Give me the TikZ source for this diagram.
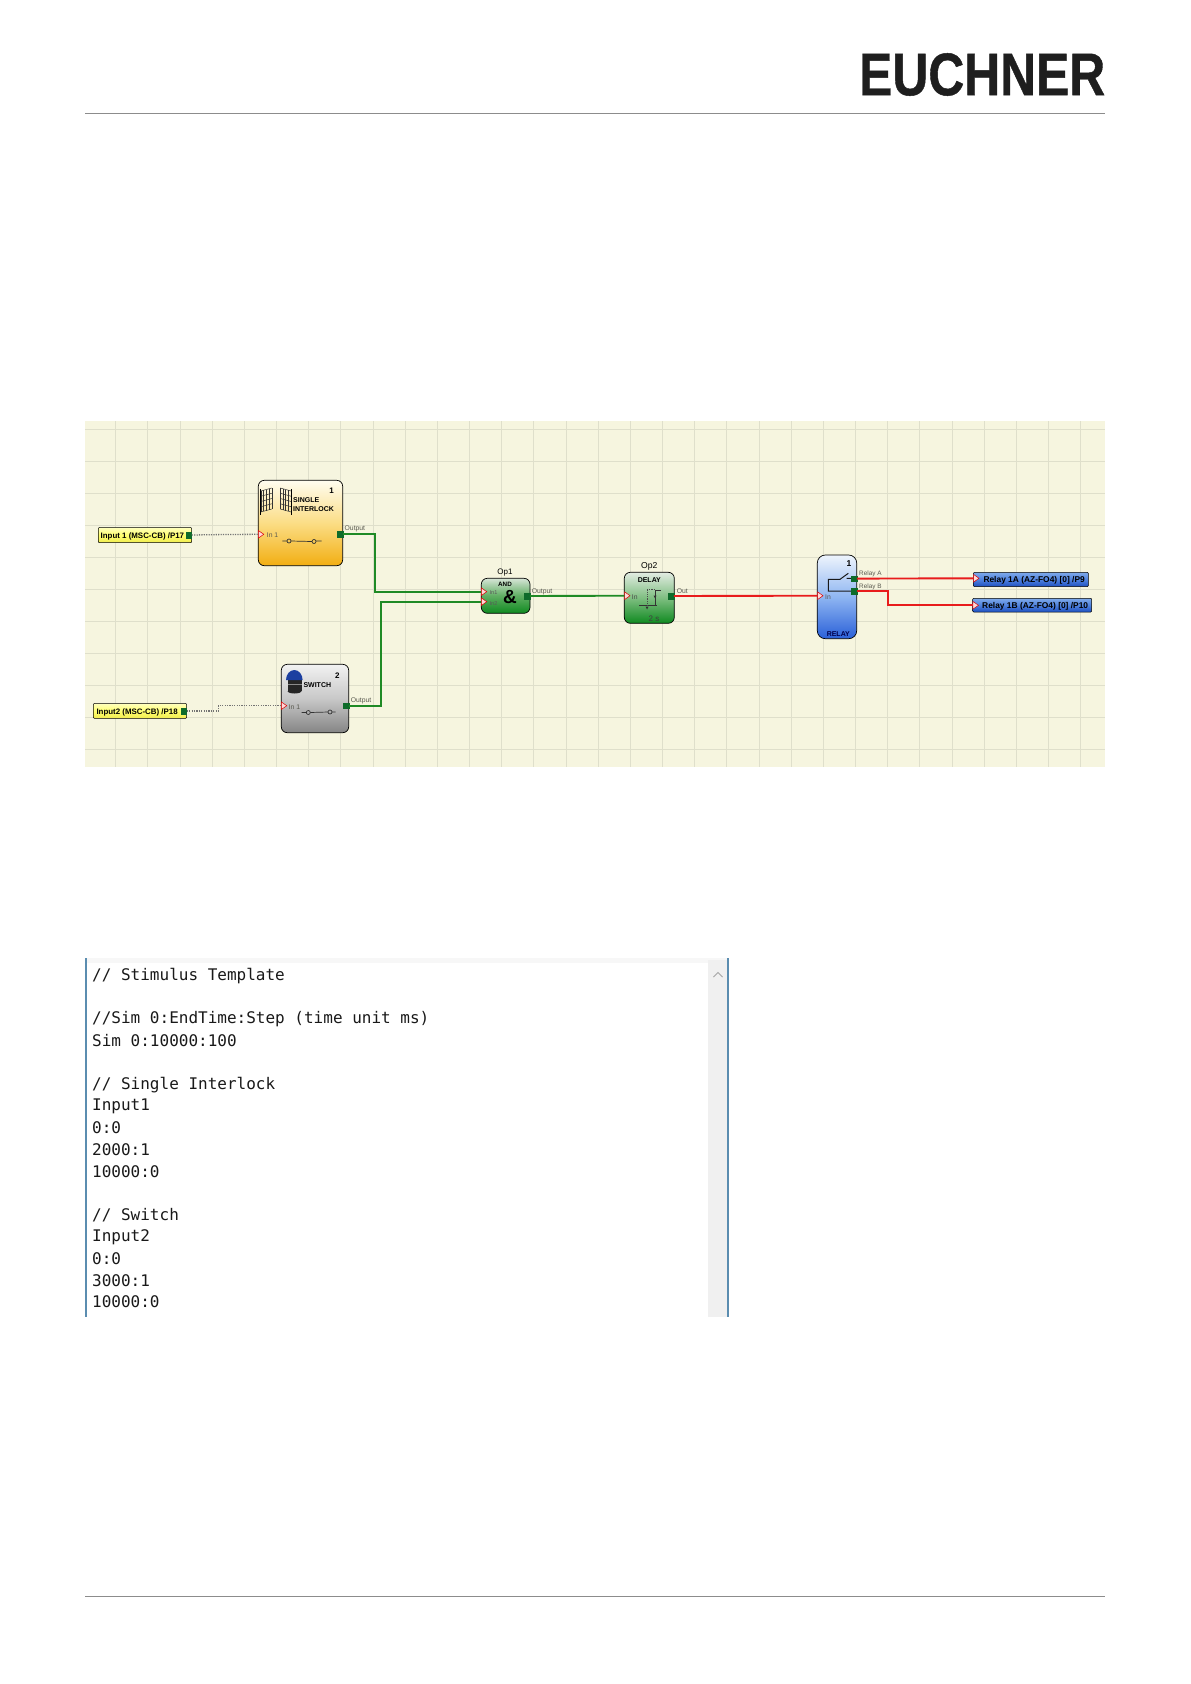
\documentclass[tikz,border=0pt]{standalone}
\usepackage{fontspec}
\usepackage{graphicx}
\usetikzlibrary{shapes.geometric,arrows.meta,calc}
\setmainfont{Liberation Sans}
\newfontfamily\logofont[FakeBold=0.8]{Liberation Sans Bold}
\newfontfamily\codefont{DejaVu Sans Mono}
\definecolor{panelbg}{HTML}{F6F5DF}
\definecolor{gridc}{HTML}{DFDFCB}
\definecolor{wireg}{HTML}{1F8A25}
\definecolor{wirer}{HTML}{E81C1C}
\definecolor{portg}{HTML}{0E6B2A}
\definecolor{ruleg}{HTML}{8C8C8C}
\definecolor{labelg}{HTML}{5A5A50}
\definecolor{barc}{HTML}{F0F0F0}
\definecolor{edgeb}{HTML}{5B8DB0}
\definecolor{logoc}{HTML}{1E1E1E}
\definecolor{dome}{HTML}{1C3FA0}
\definecolor{orA}{HTML}{FFFDF0}\definecolor{orB}{HTML}{FBDD85}\definecolor{orC}{HTML}{F2AE12}
\definecolor{yeA}{HTML}{FFFFC0}\definecolor{yeB}{HTML}{FFFF70}\definecolor{yeC}{HTML}{F0EC50}
\definecolor{blA}{HTML}{7FAAEA}\definecolor{blB}{HTML}{4F82DE}\definecolor{blC}{HTML}{1D4FC0}
\definecolor{reA}{HTML}{EEF4FC}\definecolor{reB}{HTML}{8FB6F2}\definecolor{reC}{HTML}{2A60D8}
\definecolor{grA}{HTML}{D6E4D6}\definecolor{grB}{HTML}{5FAE62}\definecolor{grC}{HTML}{0F8A20}
\definecolor{gyA}{HTML}{F2F2F2}\definecolor{gyB}{HTML}{C8C8C8}\definecolor{gyC}{HTML}{858585}
\newcommand{\fs}[1]{\fontsize{#1}{#1}\selectfont}
\tikzset{
  blockbox/.style={draw=black,line width=.7pt,rounded corners=6pt,inner sep=0pt,anchor=north west},
  iobox/.style={draw=black,line width=.5pt,rounded corners=1pt,inner sep=0pt,anchor=north west},
  port/.style={draw=portg,fill=portg,minimum size=5.5pt,inner sep=0pt},
  intri/.style={isosceles triangle,isosceles triangle apex angle=70,draw=red!85!black,fill=red!15,line width=.5pt,inner sep=0pt,minimum height=5.5pt,minimum width=5.5pt,anchor=west},
  gwire/.style={draw=wireg,line width=1.9pt},
  rwire/.style={draw=wirer,line width=1.9pt},
  dotwire/.style={draw=black!55,line width=1.3pt,dash pattern=on 1.2pt off 1.2pt},
  lab/.style={text=labelg,inner sep=0pt,anchor=west,font=\fs{6.8}},
  bold/.style={text=black,inner sep=0pt,font=\fs{7}\bfseries},
  iotext/.style={text=black,inner sep=0pt,anchor=west},
  codeline/.style={text=black!90,inner sep=0pt,anchor=west,font=\codefont\fs{16}},
  symb/.style={draw=black!80,line width=.7pt},
}
\begin{document}
\begin{tikzpicture}[x=1pt,y=-1pt]
\useasboundingbox (0,0) rectangle (1191,1684);
\fill[white] (0,0) rectangle (1191,1684);
% header
\node[inner sep=0pt,anchor=north west,text=logoc] (logo) at (859,53) {\resizebox{246pt}{42pt}{\logofont EUCHNER}};
\draw[ruleg,line width=.8pt] (85,113) -- (1105,113);
\draw[ruleg,line width=.8pt] (85,1596) -- (1105,1596);
% panel
\fill[panelbg] (85,421) rectangle (1105,767);
\foreach \k in {0,...,30}{\draw[gridc,line width=1pt] ({115.7+32.17*\k},421) -- ({115.7+32.17*\k},767);}
\foreach \k in {0,...,10}{\draw[gridc,line width=1pt] (85,{429.3+32*\k}) -- (1105,{429.3+32*\k});}
% interlock block
\path[blockbox,top color=orA,bottom color=orC,middle color=orB] (258.3,480.3) rectangle (342.7,565.7);
\foreach \xa/\sgn in {260.8/1,291.2/-1}{
  \foreach \t in {0,.25,.5,.75,1}{\draw[black!80,line width=.5pt] (\xa,{491+\t*21}) -- ({\xa+\sgn*11},{488+\t*21});}
  \foreach \t in {0,.25,.5,.75,1}{\draw[black!80,line width=.5pt] ({\xa+\sgn*\t*11},{491-\t*3}) -- ({\xa+\sgn*\t*11},{512-\t*3});}
  \draw[black,line width=1.1pt] (\xa,489.3) -- (\xa,515);
}
\node[bold,anchor=west] (t1a) at (293,500.2) {SINGLE};
\node[bold,anchor=west] (t1b) at (293,509.5) {INTERLOCK};
\node[bold,font=\fs{8}\bfseries] (t1n) at (331.7,491) {1};
\draw[symb] (282.3,541) -- (287,541) (291,541) -- (312,541.5) (316,541) -- (321.7,541);
\draw[symb] (289,541) circle (2pt) (314,541.5) circle (2pt);
\node[port] (p1out) at (340,534.3) {};
\node[intri] (t1in) at (258,534.3) {};
\node[lab] (l1in) at (266.7,535) {In 1};
\node[lab] (l1out) at (344.5,529.3) {Output};
% switch block
\path[blockbox,top color=gyA,bottom color=gyC,middle color=gyB] (281.3,664.3) rectangle (348.7,732.7);
\fill[black!85] (287.5,680) rectangle (301.5,691);
\fill[black!85] (287.5,691) arc[start angle=180,end angle=0,x radius=7,y radius=2.5];
\fill[black!45] (287.5,683.5) rectangle (301.5,685);
\fill[dome] (286,680) arc[start angle=180,end angle=360,x radius=8.3,y radius=10] -- cycle;
\node[bold,anchor=west] (t2a) at (303.3,685) {SWITCH};
\node[bold,font=\fs{8}\bfseries] (t2n) at (337.3,675.7) {2};
\draw[symb] (301.7,712.5) -- (306,712.5) (310.3,712.5) -- (328,712) (332,712) -- (335.7,712);
\draw[symb] (308.3,712.5) circle (2pt) (330,712) circle (2pt);
\node[port] (p2out) at (346,705.7) {};
\node[intri] (t2in) at (281,705.7) {};
\node[lab] (l2in) at (288.5,706.7) {In 1};
\node[lab] (l2out) at (350.7,700.7) {Output};
% inputs
\path[iobox,top color=yeA,bottom color=yeC,middle color=yeB] (98.3,527.3) rectangle (191.7,542.7);
\node[iotext,font=\fs{7.9}\bfseries] (i1t) at (100.5,536.3) {Input 1 (MSC-CB) /P17};
\node[port] (i1p) at (188.8,535) {};
\path[iobox,top color=yeA,bottom color=yeC,middle color=yeB] (93.3,703.3) rectangle (186.7,718.3);
\node[iotext,font=\fs{7.9}\bfseries] (i2t) at (96.3,712.5) {Input2 (MSC-CB) /P18};
\node[port] (i2p) at (183.8,711) {};
% AND
\path[blockbox,top color=grA,bottom color=grC,middle color=grB] (481.3,578.3) rectangle (530,613.3);
\node[text=black,inner sep=0pt,font=\fs{8}] (opa) at (505,573) {Op1};
\node[bold,font=\fs{6.3}\bfseries] (anda) at (505,584.3) {AND};
\node[bold,font=\fs{19}\bfseries] (ands) at (510,597.3) {\&};
\node[intri] (a1) at (481,591.7) {};
\node[intri] (a2) at (481,601.7) {};
\node[lab,text=black!65,font=\fs{5.5}] (la1) at (489.5,592.7) {In1};
\node[lab,text=black!65,font=\fs{5.5}] (la2) at (489.5,603.3) {In2};
\node[port] (aout) at (527,596) {};
\node[lab] (laout) at (531.7,592) {Output};
% DELAY
\path[blockbox,top color=grA!70!white,bottom color=grC,middle color=grB!80!white] (624.3,572.3) rectangle (674.3,623.3);
\node[text=black,inner sep=0pt,font=\fs{8.6}] (opb) at (649.3,566.7) {Op2};
\node[bold,font=\fs{7}\bfseries] (dela) at (649.3,580) {DELAY};
\node[intri] (d1) at (624.3,595.7) {};
\node[lab,text=black!70] (ld1) at (631.7,596.7) {In};
\draw[symb,line width=.6pt] (639,605.7) -- (657,605.7) (655,606) -- (655,590) -- (661,590);
\draw[black!70,line width=.4pt,dash pattern=on 1.2pt off 1pt] (647,589.5) -- (647,606) (647,589.5) -- (655,589.5);
\fill[black!80] (653.5,595.5) -- (656.5,595.5) -- (655,598.5) -- cycle;
\fill[black!80] (645.5,606.5) -- (648.5,606.5) -- (647,609.5) -- cycle;
\node[text=black!75,inner sep=0pt,font=\fs{8}] (dels) at (654,618.3) {2 s};
\node[port] (dout) at (671,596) {};
\node[lab] (ldout) at (676.7,591) {Out};
% RELAY
\path[blockbox,rounded corners=8pt,top color=reA,bottom color=reC,middle color=reB] (817.3,555) rectangle (856.7,638.7);
\node[bold,font=\fs{8.5}\bfseries] (rn) at (849,564) {1};
\draw[black!90,line width=1pt] (851,591) -- (828.3,591) -- (828.3,579.3) -- (840,579.3) -- (848.3,573.3) (846.7,578.3) -- (851,578.3);
\node[port] (ra) at (854,578.6) {};
\node[port] (rb) at (854,591) {};
\node[intri] (r1) at (817.3,595.7) {};
\node[lab,text=black!65] (lr1) at (825,596.7) {In};
\node[lab,font=\fs{6.4}] (lra) at (859,574.3) {Relay A};
\node[lab,font=\fs{6.4}] (lrb) at (859,586.7) {Relay B};
\node[text=blue!30!black,inner sep=0pt,font=\fs{7}\bfseries] (rlab) at (838.3,634.3) {RELAY};
% relay outputs
\path[iobox,top color=blA,bottom color=blC,middle color=blB] (973.3,572.3) rectangle (1088.3,586.7);
\node[iotext,font=\fs{8.4}\bfseries] (o1t) at (983.3,580.5) {Relay 1A (AZ-FO4) [0] /P9};
\node[intri] (o1) at (973.3,578.3) {};
\path[iobox,top color=blA,bottom color=blC,middle color=blB] (972.7,598.3) rectangle (1091.7,612);
\node[iotext,font=\fs{8.4}\bfseries] (o2t) at (982,606) {Relay 1B (AZ-FO4) [0] /P10};
\node[intri] (o2) at (972.7,605.3) {};
% connectors
\coordinate (j1) at (374.7,591.7);
\coordinate (j2) at (380.7,601.7);
\coordinate (k1) at (218.3,711);
\coordinate (k2) at (218.3,705.7);
\coordinate (k3) at (225,534.5);
\coordinate (j3) at (888.3,591);
\coordinate (j4) at (888.3,605.3);
\draw[dotwire] (i1p.east) -- (k3) -- (t1in.west);
\draw[dotwire] (i2p.east) -- (k1) -- (k2) -- (t2in.west);
\draw[gwire] (p1out.east) -| (j1) -- (a1.west);
\draw[gwire] (p2out.east) -| (j2) -- (a2.west);
\draw[gwire] (aout.east) -- (d1.west);
\draw[rwire] (dout.east) -- (r1.west);
\draw[rwire] (ra.east) -- (o1.west);
\draw[rwire] (rb.east) -- (j3) -- (j4) -- (o2.west);
% text window
\fill[black!3] (86,958) rectangle (728,963);
\fill[barc] (708,960) rectangle (728,1317);
\draw[edgeb,line width=1.1pt] (86,958) -- (86,1317);
\draw[edgeb,line width=1.1pt] (728,958) -- (728,1317);
\draw[black!35,line width=.8pt] (713.5,977) -- (718,972.5) -- (722.5,977);
\node[codeline] (c1) at (92,976.5) {// Stimulus Template};
\node[codeline] (c2) at (92,1019.5) {//Sim 0:EndTime:Step (time unit ms)};
\node[codeline] (c3) at (92,1041) {Sim 0:10000:100};
\node[codeline] (c4) at (92,1085.5) {// Single Interlock};
\node[codeline] (c5) at (92,1106.5) {Input1};
\node[codeline] (c6) at (92,1128) {0:0};
\node[codeline] (c7) at (92,1150) {2000:1};
\node[codeline] (c8) at (92,1172) {10000:0};
\node[codeline] (c9) at (92,1215) {// Switch};
\node[codeline] (c10) at (92,1237) {Input2};
\node[codeline] (c11) at (92,1259) {0:0};
\node[codeline] (c12) at (92,1280.5) {3000:1};
\node[codeline] (c13) at (92,1302) {10000:0};
\end{tikzpicture}
\end{document}
